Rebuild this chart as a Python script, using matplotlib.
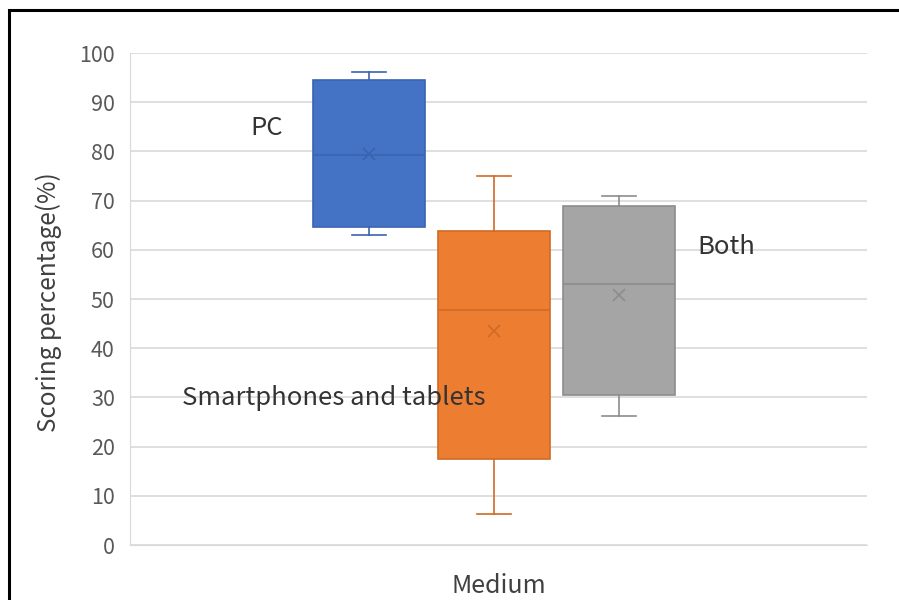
import matplotlib
matplotlib.use("Agg")
import matplotlib.pyplot as plt
from matplotlib.patches import Rectangle

plt.rcParams['font.family'] = ['Noto Sans CJK JP', 'DejaVu Sans']

# box statistics
groups = ["PC", "Smartphones and tablets", "Both"]
whis_lo = [63.1, 6.3, 26.2]
q1 = [64.7, 17.5, 30.4]
medians = [79.3, 47.7, 53.1]
q3 = [94.5, 63.9, 69.0]
whis_hi = [96.2, 75.0, 71.0]
means = [79.5, 43.4, 50.8]

fills = ["#4472C4", "#ED7D31", "#A5A5A5"]
edges = ["#3A64B0", "#D06A25", "#8C8C8C"]
label_pos = [(0.18, 84.8), (0.72, 29.9), (3.86, 60.6)]

fig = plt.figure(figsize=(8.99, 6.0), dpi=100)
ax = fig.add_axes([130/899, 1-545/600, (867-130)/899, (545-53)/600])

for i, g in enumerate(groups):
    st = [dict(whislo=whis_lo[i], q1=q1[i], med=medians[i], q3=q3[i],
               whishi=whis_hi[i], mean=means[i], fliers=[])]
    ax.bxp(st, positions=[i + 1], widths=0.9, showmeans=True, patch_artist=True,
           boxprops=dict(facecolor=fills[i], edgecolor=edges[i], linewidth=1.2),
           whiskerprops=dict(color=edges[i], linewidth=1.2),
           capprops=dict(color=edges[i], linewidth=1.2),
           capwidths=0.27,
           medianprops=dict(color=edges[i], linewidth=1.2),
           meanprops=dict(marker='x', markeredgecolor=edges[i], markersize=9,
                          markeredgewidth=1.2))
    ax.text(label_pos[i][0], label_pos[i][1], g, fontsize=18.5, color="#333333",
            ha="center", va="center")

ax.set_xlim(-0.912, 4.984)
ax.set_ylim(0, 100)
ax.set_yticks(range(0, 101, 10))
ax.set_xticks([])
ax.yaxis.grid(True, color="#D9D9D9", linewidth=1.2)
ax.set_axisbelow(True)
ax.tick_params(axis='y', length=0, pad=11, labelsize=15.5, labelcolor="#595959")
for side in ["top", "right"]:
    ax.spines[side].set_visible(False)
ax.spines["left"].set_color("#D9D9D9")
ax.spines["bottom"].set_color("#D9D9D9")

ax.set_ylabel("Scoring percentage(%)", fontsize=17.5, color="#404040")
ax.yaxis.set_label_coords(-0.092, 0.494)
ax.set_xlabel("Medium", fontsize=18, color="#404040", labelpad=20)

# black frame around the chart area
fig.patches.append(Rectangle((9/899, -0.05), 1.2, 1 - 10/600 + 0.05,
                             transform=fig.transFigure, fill=False,
                             edgecolor="black", linewidth=2.2))

fig.savefig("out.png", dpi=100)
